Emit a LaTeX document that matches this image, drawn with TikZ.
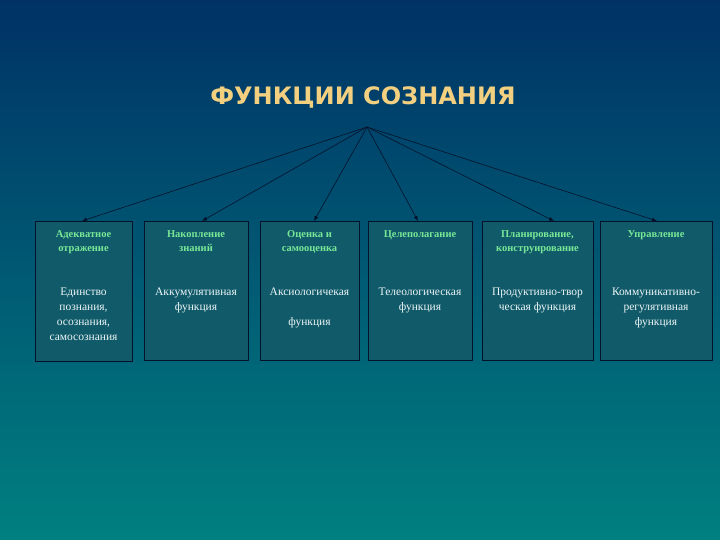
\documentclass[tikz,border=0pt]{standalone}
\usepackage{fontspec}
\setmainfont{Liberation Serif}
\newfontfamily\titlefont{DejaVu Sans}
\usetikzlibrary{arrows.meta}
\definecolor{bgtop}{RGB}{0,50,102}
\definecolor{bgbot}{RGB}{0,128,128}
\definecolor{boxfill}{RGB}{17,90,106}
\definecolor{boxline}{RGB}{6,18,42}
\definecolor{titlecol}{RGB}{242,208,128}
\definecolor{headcol}{RGB}{120,232,150}
\definecolor{bodycol}{RGB}{236,246,246}
\tikzset{
  fbox/.style={draw=boxline, fill=boxfill, line width=0.8pt, inner sep=0pt},
  head/.style={anchor=north, align=center, text=headcol, font=\fontsize{10.5}{14.5}\selectfont\bfseries, inner sep=0pt},
  body/.style={anchor=north, align=center, text=bodycol, font=\fontsize{11.5}{15}\selectfont, inner sep=0pt},
  link/.style={draw=boxline, line width=0.6pt, -{Latex[length=5pt,width=4pt]}}
}
\begin{document}
\begin{tikzpicture}[x=1pt,y=-1pt]
\useasboundingbox (0,0) rectangle (720,540);
\shade[top color=bgtop, bottom color=bgbot] (0,0) rectangle (720,540);
\node[text=titlecol, font=\titlefont\bfseries\fontsize{24}{28}\selectfont, inner sep=0pt] (title) at (363,97) {ФУНКЦИИ СОЗНАНИЯ};
\coordinate (apex) at (367,127);
% boxes
\path[fbox] (35,221) rectangle (132,361) node[pos=0.5, inner sep=0pt] (b1) {};
\path[fbox] (144,221) rectangle (248,360) node[pos=0.5, inner sep=0pt] (b2) {};
\path[fbox] (260,221) rectangle (359,360) node[pos=0.5, inner sep=0pt] (b3) {};
\path[fbox] (368,221) rectangle (472,360) node[pos=0.5, inner sep=0pt] (b4) {};
\path[fbox] (482,221) rectangle (593,360) node[pos=0.5, inner sep=0pt] (b5) {};
\path[fbox] (600,221) rectangle (712,360) node[pos=0.5, inner sep=0pt] (b6) {};
% connectors
\coordinate (t1) at (82,221);
\coordinate (t2) at (202,221);
\coordinate (t3) at (314,221);
\coordinate (t4) at (418,221);
\coordinate (t5) at (554,221);
\coordinate (t6) at (657,221);
\foreach \i in {1,...,6} \draw[link] (apex) -- (t\i);
% headers
\node[head] (h1) at (83.5,230) {Адекватное\\отражение};
\node[head] (h2) at (196,230) {Накопление\\знаний};
\node[head] (h3) at (309.5,230) {Оценка и\\самооценка};
\node[head] (h4) at (420,230) {Целеполагание};
\node[head] (h5) at (537.5,230) {Планирование,\\конструирование};
\node[head] (h6) at (656,230) {Управление};
% bodies
\node[body] (d1) at (83.5,288) {Единство\\познания,\\осознания,\\самосознания};
\node[body] (d2) at (196,288) {Аккумулятивная\\функция};
\node[body] (d3) at (309.5,288) {Аксиологичекая\\[15pt]функция};
\node[body] (d4) at (420,288) {Телеологическая\\функция};
\node[body] (d5) at (537.5,288) {Продуктивно-твор\\ческая функция};
\node[body] (d6) at (656,288) {Коммуникативно-\\регулятивная\\функция};
\end{tikzpicture}
\end{document}
